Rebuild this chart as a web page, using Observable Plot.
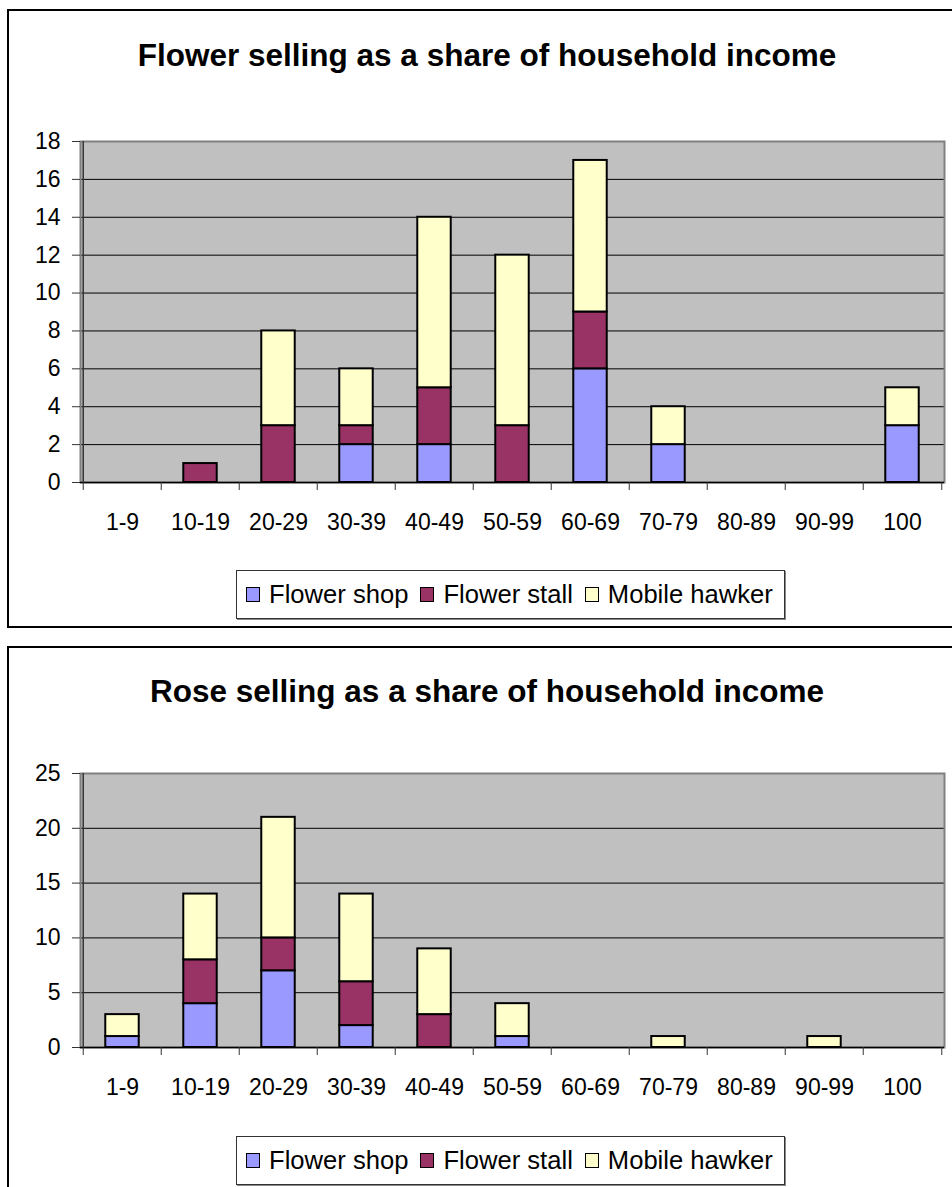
<!DOCTYPE html>
<html>
<head>
<meta charset="utf-8">
<script src="https://cdn.jsdelivr.net/npm/d3@7"></script>
<script src="https://cdn.jsdelivr.net/npm/@observablehq/plot@0.6"></script>
<style>
  html, body { margin: 0; padding: 0; background: #fff; }
  #page { position: relative; width: 952px; height: 1187px; overflow: hidden; background: #fff;
          font-family: "Liberation Sans", Arial, sans-serif; color: #000; }
  .frame { position: absolute; border: 2px solid #000; box-sizing: border-box; }
  .title { position: absolute; left: 0; width: 974px; text-align: center; font-weight: bold; font-size: 31.5px; }
  .chart { position: absolute; left: 0; }
  .legend { position: absolute; left: 236px; width: 549px; height: 49px; border: 1px solid #333;
            box-sizing: border-box; background: #fff; display: flex; align-items: center;
            padding-left: 9px; font-size: 25.6px; white-space: nowrap; box-shadow: 1px 1px 0 #888; }
  .legend .item { display: flex; align-items: center; margin-right: 12px; }
  .legend .sw { width: 12px; height: 13px; border: 1.5px solid #000; margin-right: 9px; }
</style>
</head>
<body>
<div id="page">
  <div class="frame" style="left:7px; top:9px; width:970px; height:619px;"></div>
  <div class="title" style="top:37px;">Flower selling as a share of household income</div>
  <div class="chart" id="chart1" style="top:110px;"></div>
  <div class="legend" id="legend1" style="top:570px;"></div>

  <div class="frame" style="left:7px; top:646px; width:970px; height:600px;"></div>
  <div class="title" style="top:673px;">Rose selling as a share of household income</div>
  <div class="chart" id="chart2" style="top:740px;"></div>
  <div class="legend" id="legend2" style="top:1136px;"></div>
</div>
<script>
// ---- data ----
const categories = ["1-9", "10-19", "20-29", "30-39", "40-49", "50-59", "60-69", "70-79", "80-89", "90-99", "100"];
const seriesNames = ["Flower shop", "Flower stall", "Mobile hawker"];
const seriesColors = ["#9999FF", "#993366", "#FFFFCC"];

const flowerShop   = [0, 0, 0, 2, 2, 0, 6, 2, 0, 0, 3];
const flowerStall  = [0, 1, 3, 1, 3, 3, 3, 0, 0, 0, 0];
const flowerHawker = [0, 0, 5, 3, 9, 9, 8, 2, 0, 0, 2];
const flowerTicks  = [0, 2, 4, 6, 8, 10, 12, 14, 16, 18];

const roseShop   = [1, 4, 7, 2, 0, 1, 0, 0, 0, 0, 0];
const roseStall  = [0, 4, 3, 4, 3, 0, 0, 0, 0, 0, 0];
const roseHawker = [2, 6, 11, 8, 6, 3, 0, 1, 0, 1, 0];
const roseTicks  = [0, 5, 10, 15, 20, 25];

function toRows(seriesArrays) {
  const rows = [];
  categories.forEach((c, i) => {
    seriesArrays.forEach((arr, s) => {
      if (arr[i] > 0) rows.push({cat: c, series: seriesNames[s], value: arr[i]});
    });
  });
  return rows;
}

function makeChart(rows, ticks, top, plotTop, plotBottom) {
  const width = 952, marginLeft = 80, marginRight = 8, marginBottom = 60;
  const marginTop = plotTop - top;
  const height = plotBottom - top + marginBottom;
  const step = (width - marginLeft - marginRight) / categories.length;
  const inset = (step - 34) / 2;
  const last = categories[categories.length - 1];
  return Plot.plot({
    width, height, marginLeft, marginRight, marginTop, marginBottom,
    style: {fontFamily: '"Liberation Sans", Arial, sans-serif', fontSize: "23px", background: "transparent", color: "#000", overflow: "visible"},
    x: {domain: categories, padding: 0, label: null},
    y: {domain: [ticks[0], ticks[ticks.length - 1]], label: null},
    color: {domain: seriesNames, range: seriesColors},
    marks: [
      Plot.frame({fill: "#C0C0C0"}),
      Plot.gridY(ticks, {stroke: "#000", strokeOpacity: 1, strokeWidth: 1}),
      Plot.frame({stroke: "#808080", strokeWidth: 2}),
      Plot.barY(rows, {x: "cat", y: "value", fill: "series", stroke: "#000", strokeWidth: 2,
                       insetLeft: inset, insetRight: inset}),
      Plot.ruleY([0], {stroke: "#000", strokeWidth: 1.5}),
      Plot.ruleX(categories.slice(0, 1), {x: d => d, dx: -step / 2, stroke: "#333", strokeWidth: 1.5}),
      Plot.ruleX(categories, {x: d => d, dx: -step / 2, y1: 0, y2: 0, insetBottom: -8, stroke: "#333"}),
      Plot.ruleX([last], {x: d => d, dx: step / 2, y1: 0, y2: 0, insetBottom: -8, stroke: "#333"}),
      Plot.axisY(ticks, {tickSize: 8, tickPadding: 12, stroke: "#333", label: null}),
      Plot.axisX({tickSize: 0, tickPadding: 31, label: null})
    ]
  });
}

function makeLegend(el) {
  seriesNames.forEach((n, i) => {
    const item = document.createElement("div");
    item.className = "item";
    const sw = document.createElement("div");
    sw.className = "sw";
    sw.style.background = seriesColors[i];
    const t = document.createElement("span");
    t.textContent = n;
    item.appendChild(sw); item.appendChild(t);
    el.appendChild(item);
  });
}

document.getElementById("chart1").appendChild(
  makeChart(toRows([flowerShop, flowerStall, flowerHawker]), flowerTicks, 110, 141, 482));
document.getElementById("chart2").appendChild(
  makeChart(toRows([roseShop, roseStall, roseHawker]), roseTicks, 740, 773, 1047));
makeLegend(document.getElementById("legend1"));
makeLegend(document.getElementById("legend2"));
</script>
</body>
</html>
